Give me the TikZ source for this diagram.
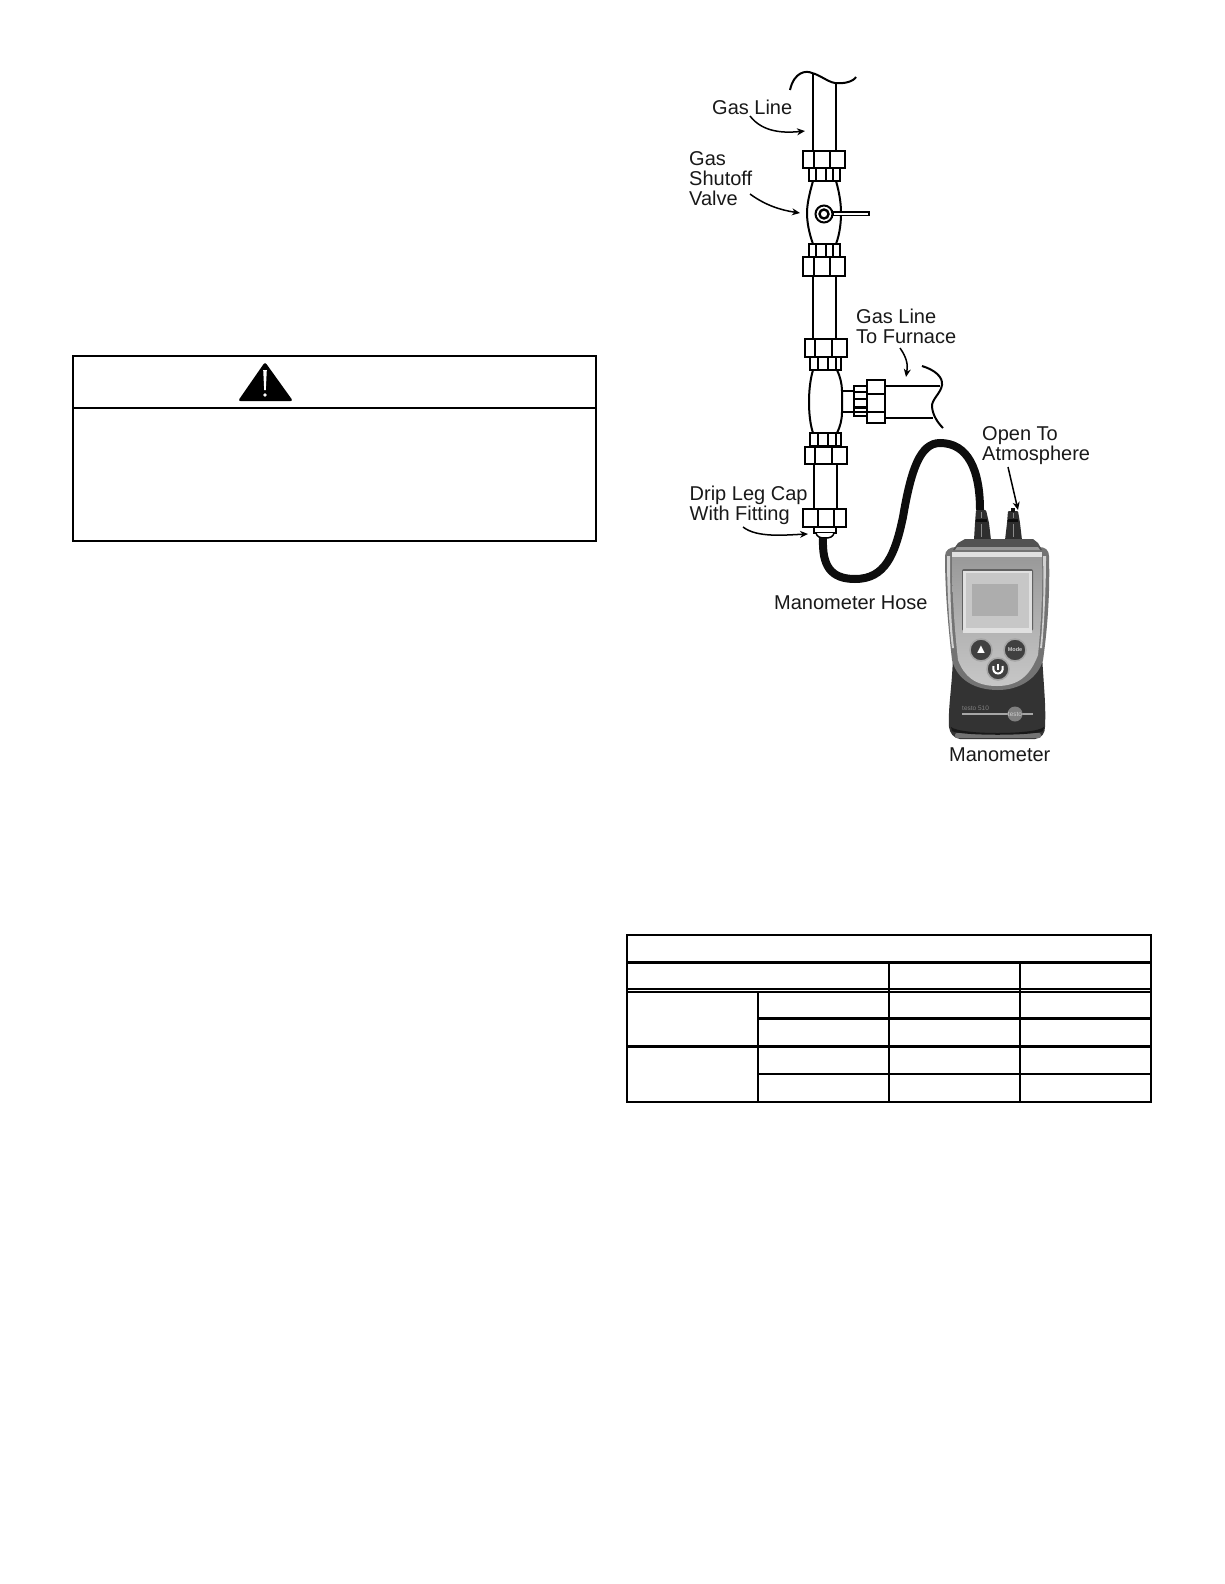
\documentclass[tikz,border=0pt]{standalone}
\usepackage{fontspec}
\setmainfont{Liberation Sans}
\usetikzlibrary{arrows.meta}
\tikzset{
  pipe/.style={line width=2pt,black,line join=miter},
  fit part/.style={draw=black,line width=2pt,fill=white},
  lbl/.style={inner sep=0pt,anchor=base west,align=left,font=\fontsize{20}{20}\selectfont,text=black!90},
  pointer/.style={line width=1.5pt,black,-{Stealth[length=8pt,width=7pt,inset=2.5pt]}},
  rule/.style={line width=2pt,black},
  thick rule/.style={line width=3pt,black},
  hose/.style={line width=8pt,black!95,line cap=butt},
  key/.style={circle,fill=black!75,draw=black!35,line width=1.5pt,minimum size=22pt,inner sep=0pt}
}
\begin{document}
\begin{tikzpicture}[x=1pt,y=-1pt]
\useasboundingbox (0,0) rectangle (1224,1584);
\fill[white] (0,0) rectangle (1224,1584);
% warning box
\draw[rule] (73,355.5) rectangle (596,541);
\draw[rule] (73,408) -- (596,408);
\fill[black,rounded corners=2.5pt] (265,362) -- (293,401) -- (238,401) -- cycle;
\fill[white] (263.2,370) -- (266.8,370) -- (265.8,390) -- (264.2,390) -- cycle;
\fill[white] (265,395) circle (1.8pt);
% table
\draw[rule] (626.5,935) rectangle (1151,1101.7);
\draw[thick rule] (626.5,962.3) -- (1151,962.3);
\draw[rule] (626.5,989) -- (1151,989);
\draw[rule] (626.5,992) -- (1151,992);
\draw[thick rule] (758,1018.5) -- (1151,1018.5);
\draw[thick rule] (626.5,1046.3) -- (1151,1046.3);
\draw[rule] (758,1074) -- (1151,1074);
\draw[rule] (758,992) -- (758,1101.7);
\draw[rule] (889,962.3) -- (889,1101.7);
\draw[rule] (1020,962.3) -- (1020,1101.7);
% gas line
\draw[pipe] (812.5,73) -- (812.5,151) (835.5,83) -- (835.5,151);
\draw[pipe] (790,90) .. controls (794,72) and (806,70) .. (812,73) .. controls (820,75) and (828,82) .. (835,83) .. controls (843,84) and (853,82) .. (856,77);
\draw[fit part] (802.5,151) rectangle (844.5,168);
\draw[pipe] (814,151) -- (814,168) (830,151) -- (830,168);
\draw[fit part] (808.5,168) rectangle (839.5,181);
\draw[pipe] (816,168) -- (816,181) (826,168) -- (826,181) (833,168) -- (833,181);
% valve
\draw[pipe] (813,181) .. controls (809,195) and (807,205) .. (807,213) .. controls (807,222) and (809,233) .. (813,244);
\draw[pipe] (836,181) .. controls (840,195) and (841,205) .. (841,213) .. controls (841,222) and (840,233) .. (836,244);
\draw[fit part,line width=1.6pt] (833,212) rectangle (869,215.5);
\draw[fit part] (824,214) circle (8.5pt);
\draw[fit part,line width=2.4pt] (824,214) circle (4.5pt);
\draw[fit part] (808.5,244) rectangle (839.5,257);
\draw[pipe] (816,244) -- (816,257) (826,244) -- (826,257) (833,244) -- (833,257);
\draw[fit part] (802.5,257) rectangle (844.5,276);
\draw[pipe] (814,257) -- (814,276) (830,257) -- (830,276);
\draw[pipe] (812.5,276) -- (812.5,339) (835.5,276) -- (835.5,339);
% tee
\draw[fit part] (805,339) rectangle (847,357);
\draw[pipe] (815,339) -- (815,357) (832,339) -- (832,357);
\draw[fit part] (810,357) rectangle (841,370);
\draw[pipe] (818,357) -- (818,370) (828,357) -- (828,370) (836,357) -- (836,370);
\draw[pipe] (813,370) .. controls (810,380) and (809,392) .. (809,402) .. controls (809,412) and (810,424) .. (813,433);
\draw[pipe] (837,370) .. controls (840,376) and (842,384) .. (842,391) -- (842,412) .. controls (842,420) and (840,427) .. (837,433);
\draw[pipe] (842,391) -- (854,391) (842,412) -- (854,412);
\draw[fit part] (854,386) rectangle (867,416);
\draw[pipe] (854,392) -- (867,392) (854,399) -- (867,399);
\draw[line width=3pt] (854,407) -- (867,407);
\draw[pipe] (854,412) -- (867,412);
\draw[fit part] (867,380) rectangle (885,423);
\draw[pipe] (867,394) -- (885,394) (867,412) -- (885,412);
\draw[pipe] (885,386) -- (940,386) (885,418) -- (933,418);
\draw[pipe] (922,366) .. controls (935,370) and (943,377) .. (942,385) .. controls (941,393) and (931,400) .. (932,407) .. controls (933,416) and (938,423) .. (943,428);
\draw[fit part] (810,433) rectangle (841,446);
\draw[pipe] (818,433) -- (818,446) (828,433) -- (828,446) (836,433) -- (836,446);
\draw[fit part] (805,447) rectangle (847,464);
\draw[pipe] (815,447) -- (815,464) (832,447) -- (832,464);
\draw[pipe] (814,464) -- (814,509) (837,464) -- (837,509);
\draw[fit part] (803,509) rectangle (846,527);
\draw[pipe] (818,509) -- (818,527) (834,509) -- (834,527);
\draw[fit part] (814,527) rectangle (836,533);
\draw[fit part,line width=1.5pt] (816,533) .. controls (817,537) and (820,538) .. (825,538) .. controls (830,538) and (833,537) .. (834,533);
% hose
\draw[hose] (823,538) .. controls (822,565) and (830,579) .. (855,579) .. controls (885,579) and (895,555) .. (903,517) .. controls (911,470) and (920,443) .. (940,443) .. controls (968,443) and (980,470) .. (980,510);
% manometer: nozzles
\fill[black!82,rounded corners=1pt] (976,510) -- (986,510) -- (989,523) -- (991,540) -- (974,540) -- (975,523) -- cycle;
\fill[black!82,rounded corners=1pt] (1008,511) -- (1018,511) -- (1020,523) -- (1022,540) -- (1005,540) -- (1007,523) -- cycle;
\fill[black!95] (1011,508) rectangle (1015,512);
\fill[black!95] (976,519) rectangle (987,522);
\fill[black!95] (1008,519) rectangle (1018,522);
\draw[black!45,line width=1pt] (981.5,512) -- (981.5,518) (981.5,524) -- (981.5,537) (1013,513) -- (1013,518) (1013,524) -- (1013,537);
% manometer: dark lower shell
\fill[black!80] (953,655) .. controls (952,690) and (948,705) .. (949,727) .. controls (950,733) and (953,738) .. (960,739) -- (1035,739) .. controls (1042,738) and (1045,733) .. (1045,727) .. controls (1046,705) and (1044,690) .. (1042,655) -- cycle;
\fill[black!55,rounded corners=2pt] (955,733) rectangle (1041,738);
\fill[black!90] (951,727) .. controls (960,735) and (1035,735) .. (1044,727) -- (1043,731) .. controls (1035,736) and (960,736) .. (952,731) -- cycle;
% manometer: silver shell
\path[fill=black!55] (945,556) .. controls (945,550) and (950,547) .. (956,547) -- (1039,547) .. controls (1045,547) and (1049,550) .. (1049,556) .. controls (1050,590) and (1048,625) .. (1043,660) .. controls (1038,678) and (1020,690) .. (998,690) .. controls (975,690) and (957,680) .. (952,660) .. controls (948,625) and (945,590) .. (945,556) -- cycle;
\path[top color=black!40,bottom color=black!22] (952,556) -- (1042,556) .. controls (1043,590) and (1041,625) .. (1038,655) .. controls (1030,676) and (1018,686) .. (997,686) .. controls (975,686) and (964,676) .. (958,660) .. controls (954,625) and (952,590) .. (952,556) -- cycle;
\fill[black!18] (947,556) .. controls (947,590) and (949,625) .. (952,648) -- (954,648) .. controls (951,625) and (950,590) .. (950,556) -- cycle;
\fill[black!18] (1046,556) .. controls (1046,590) and (1044,625) .. (1042,648) -- (1040,648) .. controls (1043,625) and (1044,590) .. (1043,556) -- cycle;
\fill[black!12] (952,552) -- (1042,552) -- (1042,557) -- (952,557) -- cycle;
% manometer: top cap
\fill[black!68] (958,543) -- (965,539) -- (1033,539) -- (1038,543) -- (1042,550) -- (953,550) -- cycle;
\fill[black!40] (957,547) -- (1038,547) -- (1040,550) -- (955,550) -- cycle;
% manometer: screen
\fill[black!62,rounded corners=2pt] (962,569) rectangle (1033,631);
\fill[black!12] (963,571) rectangle (1032,633);
\fill[black!22] (966,573) rectangle (1029,628);
\fill[black!32] (972,584) rectangle (1018,616);
% manometer: keys
\node[key,text=white] (up) at (981,650) {\fontsize{13}{13}\selectfont\char"25B2};
\node[key,text=black!20] (mode) at (1015,650) {\fontsize{5.5}{5.5}\selectfont\textbf{Mode}};
\node[key] (power) at (998,669) {};
\draw[white,line width=2pt] (998,663.5) -- (998,669.5);
\draw[white,line width=2pt] (993.5,666) .. controls (991,676) and (1005,676) .. (1002.5,666);
% manometer: brand
\draw[black!35,line width=1.2pt] (962,714) -- (1033,714);
\node[circle,fill=black!50,minimum size=15pt,inner sep=0pt,text=black!20] (logo) at (1015,714) {\fontsize{6.5}{6.5}\selectfont testo};
\node[inner sep=0pt,anchor=base west,text=black!50] (model) at (962,710) {\fontsize{6.5}{6.5}\selectfont testo 510};
% labels
\node[lbl] (gasline) at (712,115) {Gas Line};
\node[lbl] (valve) at (689,205) {Gas\\Shutoff\\Valve};
\node[lbl] (furnace) at (856,343) {Gas Line\\To Furnace};
\node[lbl] (drip) at (689.5,520) {Drip Leg Cap\\With Fitting};
\node[lbl] (hoselbl) at (774,609) {Manometer Hose};
\node[lbl] (open) at (982,460) {Open To\\Atmosphere};
\node[lbl] (mano) at (949,761) {Manometer};
% pointers
\coordinate (a1) at (750,116); \coordinate (b1) at (805,131);
\coordinate (a2) at (750,194); \coordinate (b2) at (800,213);
\coordinate (a3) at (900,348); \coordinate (b3) at (906,377);
\coordinate (a4) at (743,527); \coordinate (b4) at (808,534);
\coordinate (a5) at (1008,467); \coordinate (b5) at (1018,510);
\draw[pointer] (a1) .. controls (763,133) and (785,133) .. (b1);
\draw[pointer] (a2) .. controls (765,205) and (780,210) .. (b2);
\draw[pointer] (a3) .. controls (907,358) and (908,365) .. (b3);
\draw[pointer] (a4) .. controls (757,538) and (785,535) .. (b4);
\draw[pointer] (a5) -- (b5);
\end{tikzpicture}
\end{document}
